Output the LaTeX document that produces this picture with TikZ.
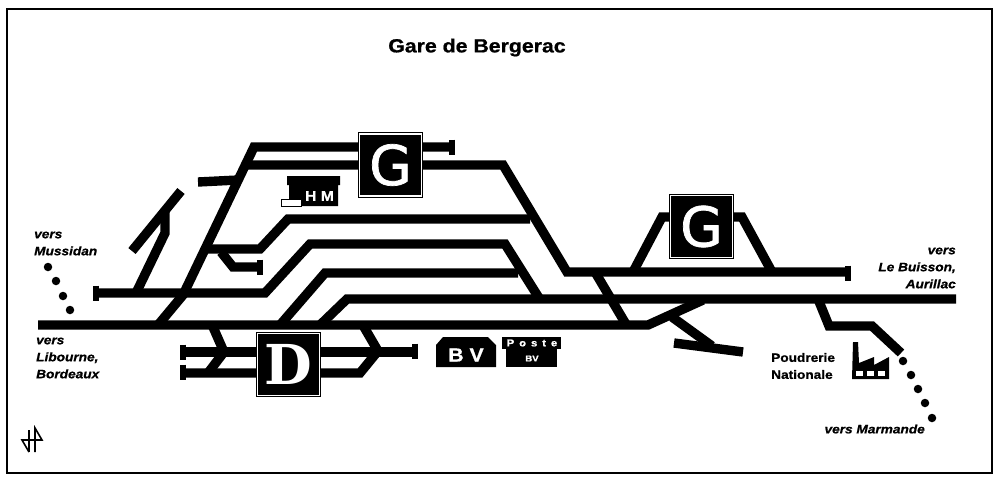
\documentclass[tikz,border=0pt]{standalone}
\usepackage{fontspec}
\setmainfont{Liberation Sans}
\newfontfamily\wide[FakeStretch=1.12,BoldFeatures={FakeBold=0.9},BoldItalicFeatures={FakeBold=0.9}]{Liberation Sans}
\newfontfamily\signG[FakeBold=1.3]{DejaVu Sans}
\newfontfamily\signD{DejaVu Serif}
\usetikzlibrary{positioning}

\begin{document}
\begin{tikzpicture}[
  x=1pt, y=-1pt,
  voie/.style={draw=black, line width=9.4pt, line join=miter, miter limit=10},
  butee/.style={draw=black, line width=5.5pt},
  sign/.style={draw=black, fill=black, double=white, double distance=1.5pt, line width=1pt,
               minimum size=62pt, inner sep=0pt, outer sep=0pt, text=white},
  ville/.style={inner sep=0pt, align=left, font=\wide\fontsize{12.2}{17}\selectfont\bfseries\itshape},
  usine/.style={inner sep=0pt, align=left, font=\wide\fontsize{12.2}{17}\selectfont\bfseries},
  bat/.style={inner sep=0pt, text=white},
  tiret/.style={fill=black, circle, minimum size=8.5pt, inner sep=0pt},
]
\useasboundingbox (0,0) rectangle (1000,480);
\draw[line width=2.8pt] (7,9) rectangle (992,473);

\node[inner sep=0pt, font=\wide\fontsize{19}{19}\selectfont\bfseries] (titre) at (477,47.5) {Gare de Bergerac};

% main lines
\draw[voie] (38,325) -- (648,325) -- (703,300);
\draw[voie] (320,325) -- (347,299) -- (956,299);
\draw[voie] (280,325) -- (325,273) -- (518,273);
\draw[voie] (96,293) -- (265,293) -- (310,244) -- (505,244) -- (539,298);
\draw[voie] (208,249) -- (260,249) -- (288,219) -- (530,219);
\draw[voie] (221,252) -- (233,267) -- (260,267);
\draw[voie] (158,325) -- (183,295) -- (254,147) -- (452,147);
\draw[voie] (248,165) -- (503,165) -- (567,272) -- (848,272);
\draw[voie] (198,182) -- (238,180);
\draw[voie] (132,251) -- (181,191);
\draw[voie] (137,291) -- (165,233) -- (165,210);
\draw[voie] (595,272) -- (627,326);

% right side
\draw[voie] (633,272) -- (662,217) -- (742,217) -- (772,272);
\draw[voie] (672,317) -- (712,346);
\draw[voie] (674,343) -- (743,352);
\draw[voie] (818,299) -- (829,326) -- (872,326) -- (901,353);

% depot
\draw[voie] (183,352) -- (415,352);
\draw[voie] (183,373) -- (360,373) -- (378,351);
\draw[voie] (213,327) -- (224,352) -- (208,373);
\draw[voie] (364,327) -- (378,351);

% buffers
\foreach \bx/\by in {452/147, 848/273, 96/293, 260/267, 183/352, 183/372, 415/351}
  \draw[butee] (\bx,\by-7.5) -- (\bx,\by+7.5);

\node[sign, font=\signG\fontsize{55}{55}\selectfont] (gnord) at (390.5,165) {G};
\node[sign, font=\signG\fontsize{55}{55}\selectfont] (gest) at (701.5,226.5) {G};
\node[sign, font=\signD\fontsize{55}{55}\selectfont\bfseries] (dsud) at (288.5,364.5) {D};

% buildings
\fill (287,176) -- (340,176) -- (340,185) -- (338,185) -- (338,206) -- (289,206) -- (289,185) -- (287,185) -- cycle;
\draw[fill=white, line width=.6pt] (281,199.5) rectangle (301,206);
\node[bat, font=\wide\fontsize{14}{14}\selectfont\bfseries] (hm) at (319.5,196) {H M};

\fill (436,367) -- (436,345) -- (443,337) -- (488,337) -- (496,345) -- (496,367) -- cycle;
\node[bat, font=\wide\fontsize{19}{19}\selectfont\bfseries] (bv) at (466,355) {B V};

\fill (502,337) rectangle (561,349);
\fill (506,349) rectangle (557,367);
\node[bat, font=\wide\fontsize{10}{10}\selectfont\bfseries] (poste) at (532,343) {P\,\,\,o\,\,\,s\,\,\,t\,\,\,e};
\node[bat, font=\wide\fontsize{8.5}{8}\selectfont\bfseries] (postebv) at (532,358.5) {BV};

% factory
\fill (852,379) -- (853,342) -- (858,342) -- (859,363) -- (874,357) -- (874,365) -- (889,357) -- (889,379) -- cycle;
\foreach \wx in {856,867,878}
  \fill[white] (\wx,371) rectangle (\wx+7,376);

% dotted continuations
\foreach \dx/\dy [count=\i] in {48/267, 56/281, 63/296, 70/310, 903/361, 911/375, 918/389, 925/403, 932/418}
  \node[tiret] (p\i) at (\dx,\dy) {};

\node[ville, anchor=west] (mussidan) at (34,243.5) {vers\\Mussidan};
\node[ville, anchor=west] (libourne) at (36,358) {vers\\Libourne,\\Bordeaux};
\node[ville, anchor=east, align=right] (buisson) at (956,268) {vers\\Le Buisson,\\Aurillac};
\node[ville, anchor=east] (marmande) at (925,429) {vers Marmande};
\node[usine, anchor=west] (poudrerie) at (771,366) {Poudrerie\\Nationale};

% signature
\draw[line width=1.6pt] (29,452) -- (22,440) -- (42,440) -- (35,428) -- (35,452);
\draw[line width=1.6pt] (29,452) -- (29,430);
\end{tikzpicture}
\end{document}
